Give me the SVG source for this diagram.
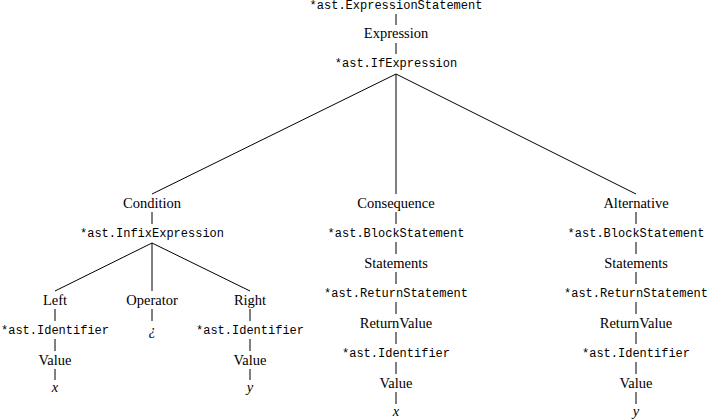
<svg xmlns="http://www.w3.org/2000/svg" width="710" height="420" viewBox="0 0 710 420">
<style>
.m{font-family:"Liberation Mono","DejaVu Sans Mono",monospace;font-size:12px;text-anchor:middle;fill:#000}
.s{font-family:"Liberation Serif","DejaVu Serif",serif;font-size:14.5px;text-anchor:middle;fill:#000}
.i{font-family:"Liberation Serif","DejaVu Serif",serif;font-size:14.5px;font-style:italic;text-anchor:middle;fill:#000}
.e{stroke:#000;stroke-width:1;fill:none}
</style>
<rect width="710" height="420" fill="#fff"/>
<g id="connectors" class="e">
<line x1="396" y1="14" x2="396" y2="25"/>
<line x1="396" y1="43" x2="396" y2="54"/>
<line x1="396" y1="74" x2="152" y2="194"/>
<line x1="396" y1="74" x2="396" y2="194"/>
<line x1="396" y1="74" x2="636" y2="194"/>
<line x1="152" y1="212" x2="152" y2="224"/>
<line x1="396" y1="212" x2="396" y2="224"/>
<line x1="636" y1="212" x2="636" y2="224"/>
<line x1="152" y1="243" x2="55" y2="291"/>
<line x1="152" y1="243" x2="152" y2="291"/>
<line x1="152" y1="243" x2="250" y2="291"/>
<line x1="55" y1="309" x2="55" y2="321"/>
<line x1="152" y1="309" x2="152" y2="321"/>
<line x1="250" y1="309" x2="250" y2="321"/>
<line x1="55" y1="339" x2="55" y2="351"/>
<line x1="250" y1="339" x2="250" y2="351"/>
<line x1="55" y1="369" x2="55" y2="380"/>
<line x1="250" y1="369" x2="250" y2="380"/>
<line x1="396" y1="242" x2="396" y2="254"/>
<line x1="396" y1="272" x2="396" y2="284"/>
<line x1="396" y1="302" x2="396" y2="314"/>
<line x1="396" y1="332" x2="396" y2="344"/>
<line x1="396" y1="362" x2="396" y2="374"/>
<line x1="396" y1="392" x2="396" y2="404"/>
<line x1="636" y1="242" x2="636" y2="254"/>
<line x1="636" y1="272" x2="636" y2="284"/>
<line x1="636" y1="302" x2="636" y2="314"/>
<line x1="636" y1="332" x2="636" y2="344"/>
<line x1="636" y1="362" x2="636" y2="374"/>
<line x1="636" y1="392" x2="636" y2="404"/>
</g>
<g id="n-root"><text class="m" x="396" y="9">*ast.ExpressionStatement</text></g>
<g id="n-expression"><text class="s" x="396" y="38">Expression</text></g>
<g id="n-if"><text class="m" x="396" y="67">*ast.IfExpression</text></g>
<g id="n-condition"><text class="s" x="152" y="208">Condition</text></g>
<g id="n-consequence"><text class="s" x="396" y="208">Consequence</text></g>
<g id="n-alternative"><text class="s" x="636" y="208">Alternative</text></g>
<g id="n-infix"><text class="m" x="152" y="237">*ast.InfixExpression</text></g>
<g id="n-left"><text class="s" x="55" y="305">Left</text></g>
<g id="n-operator"><text class="s" x="152" y="305">Operator</text></g>
<g id="n-right"><text class="s" x="250" y="305">Right</text></g>
<g id="n-left-ident"><text class="m" x="55" y="334">*ast.Identifier</text></g>
<g id="n-op-val"><text class="i" x="152" y="335">¿</text></g>
<g id="n-right-ident"><text class="m" x="250" y="334">*ast.Identifier</text></g>
<g id="n-left-value"><text class="s" x="55" y="365">Value</text></g>
<g id="n-right-value"><text class="s" x="250" y="365">Value</text></g>
<g id="n-left-x"><text class="i" x="55" y="392">x</text></g>
<g id="n-right-y"><text class="i" x="250" y="392">y</text></g>
<g id="n-c-block"><text class="m" x="396" y="237">*ast.BlockStatement</text></g>
<g id="n-c-stmts"><text class="s" x="396" y="268">Statements</text></g>
<g id="n-c-return"><text class="m" x="396" y="297">*ast.ReturnStatement</text></g>
<g id="n-c-retval"><text class="s" x="396" y="328">ReturnValue</text></g>
<g id="n-c-ident"><text class="m" x="396" y="357">*ast.Identifier</text></g>
<g id="n-c-value"><text class="s" x="396" y="388">Value</text></g>
<g id="n-c-x"><text class="i" x="396" y="416">x</text></g>
<g id="n-a-block"><text class="m" x="636" y="237">*ast.BlockStatement</text></g>
<g id="n-a-stmts"><text class="s" x="636" y="268">Statements</text></g>
<g id="n-a-return"><text class="m" x="636" y="297">*ast.ReturnStatement</text></g>
<g id="n-a-retval"><text class="s" x="636" y="328">ReturnValue</text></g>
<g id="n-a-ident"><text class="m" x="636" y="357">*ast.Identifier</text></g>
<g id="n-a-value"><text class="s" x="636" y="388">Value</text></g>
<g id="n-a-y"><text class="i" x="636" y="416">y</text></g>
</svg>
